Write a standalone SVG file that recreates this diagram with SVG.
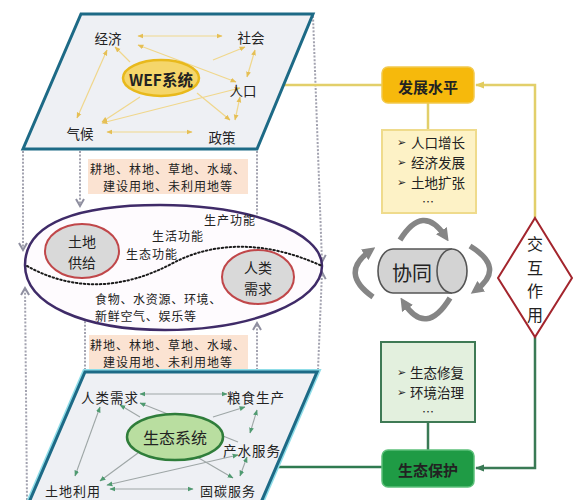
<svg xmlns="http://www.w3.org/2000/svg" width="584" height="500" viewBox="0 0 584 500">
<style>
.t{font-family:"Noto Sans CJK SC","DejaVu Sans",sans-serif;fill:#222;dominant-baseline:central;}
.c{text-anchor:middle;}
.lbl{font-size:13.5px;text-anchor:middle;}
.peach{fill:#fbe3d2;}
.dot{fill:none;stroke:#a3a3b0;stroke-width:2;stroke-dasharray:2 1.6;}
.yl{stroke:#f0d78c;stroke-width:1.2;fill:none;}
.gl{stroke:#9ea6a6;stroke-width:1.1;fill:none;}
.par{stroke:#1d6a86;stroke-width:3;fill:#eef0f4;stroke-linejoin:miter;}
.big{fill:none;stroke:#858585;stroke-width:5.5;}
.bul{font-family:"DejaVu Sans",sans-serif;font-size:11px;fill:#222;dominant-baseline:central;}
</style>
<defs>
<marker id="ya" viewBox="0 0 10 10" refX="9" refY="5" markerWidth="6" markerHeight="6" orient="auto-start-reverse" markerUnits="userSpaceOnUse"><path d="M0,1 L10,5 L0,9 Z" fill="#e5bf55"/></marker>
<marker id="ga" viewBox="0 0 10 10" refX="9" refY="5" markerWidth="6" markerHeight="6" orient="auto-start-reverse" markerUnits="userSpaceOnUse"><path d="M0,1 L10,5 L0,9 Z" fill="#4f9a70"/></marker>
<marker id="chev" viewBox="0 0 10 10" refX="8" refY="5" markerWidth="10" markerHeight="10" orient="auto" markerUnits="userSpaceOnUse"><path d="M1,1 L8,5 L1,9" fill="none" stroke="#8f8fa0" stroke-width="2"/></marker>
<marker id="yarr" viewBox="0 0 10 10" refX="9" refY="5" markerWidth="9" markerHeight="9" orient="auto" markerUnits="userSpaceOnUse"><path d="M0,1 L10,5 L0,9 Z" fill="#e2cc5e"/></marker>
<marker id="garr" viewBox="0 0 10 10" refX="9" refY="5" markerWidth="9" markerHeight="9" orient="auto" markerUnits="userSpaceOnUse"><path d="M0,1 L10,5 L0,9 Z" fill="#3a7a55"/></marker>
<marker id="bigh" viewBox="0 0 10 10" refX="5" refY="5" markerWidth="13" markerHeight="13" orient="auto" markerUnits="userSpaceOnUse"><path d="M0,0 L10,5 L0,10 Z" fill="#858585"/></marker>
</defs>

<!-- dotted connectors and links -->
<g id="connectors">
<path class="dot" d="M23,151 L23,250" marker-end="url(#chev)"/>
<path class="dot" d="M80,151 L80,206" marker-end="url(#chev)"/>
<path class="dot" d="M257,151 L257,313" marker-end="url(#chev)"/>
<path class="dot" d="M313,16 L322,262" marker-end="url(#chev)"/>
<path class="dot" d="M27,500 L25,288" marker-end="url(#chev)"/>
<path class="dot" d="M85,370 L85,320"/>
<path class="dot" d="M257,370 L257,323" marker-end="url(#chev)"/>
<path class="dot" d="M318,370 L322,272" marker-end="url(#chev)"/>
<path d="M283,85 L382,85" stroke="#e2cf6a" stroke-width="2.5" fill="none"/>
<path d="M428,103 L428,130" stroke="#e2cf6a" stroke-width="2.5" fill="none"/>
<path d="M535,218 L535,85 L476,85" stroke="#e2cf6a" stroke-width="2.5" fill="none" marker-end="url(#yarr)"/>
<path d="M277,467 L382,467" stroke="#2f7a50" stroke-width="2.5" fill="none"/>
<path d="M428,422 L428,450" stroke="#3a7a55" stroke-width="2.5" fill="none"/>
<path d="M535,337 L535,468 L476,468" stroke="#3a7a55" stroke-width="2.5" fill="none" marker-end="url(#garr)"/>
<path class="big" d="M400,240 Q423,203 445,236" marker-end="url(#bigh)"/>
<path class="big" d="M470,246 Q506,268 476,290" marker-end="url(#bigh)"/>
<path class="big" d="M450,298 Q426,337 404,303" marker-end="url(#bigh)"/>
<path class="big" d="M373,297 Q339,273 370,251" marker-end="url(#bigh)"/>
</g>

<!-- top WEF plane -->
<g id="wef-plane">
<polygon class="par" points="81,14 313,14 257,149 23,149"/>
<g class="yl">
<line x1="138" y1="36" x2="222" y2="36" marker-start="url(#ya)" marker-end="url(#ya)"/>
<line x1="138" y1="45" x2="236" y2="82" marker-start="url(#ya)" marker-end="url(#ya)"/>
<line x1="115" y1="47" x2="130" y2="62" marker-start="url(#ya)"/>
<line x1="107" y1="50" x2="77" y2="118" marker-start="url(#ya)" marker-end="url(#ya)"/>
<line x1="213" y1="60" x2="245" y2="47" marker-end="url(#ya)"/>
<line x1="255" y1="50" x2="247" y2="77" marker-start="url(#ya)" marker-end="url(#ya)"/>
<line x1="240" y1="97" x2="235" y2="120" marker-start="url(#ya)" marker-end="url(#ya)"/>
<line x1="102" y1="123" x2="240" y2="88" marker-start="url(#ya)" marker-end="url(#ya)"/>
<line x1="107" y1="132" x2="192" y2="132" marker-start="url(#ya)" marker-end="url(#ya)"/>
<line x1="140" y1="97" x2="102" y2="122" marker-end="url(#ya)"/>
<line x1="197" y1="93" x2="230" y2="120" marker-end="url(#ya)"/>
</g>
<ellipse cx="161" cy="78" rx="38" ry="18" fill="#f5d66a" stroke="#e8b91c" stroke-width="2.5"/>
<text class="t c" x="161" y="79" font-size="15.5" font-weight="bold" fill="#3a3320">WEF系统</text>
<text class="t lbl" x="108" y="38">经济</text>
<text class="t lbl" x="251" y="37">社会</text>
<text class="t lbl" x="243" y="90">人口</text>
<text class="t lbl" x="80" y="133">气候</text>
<text class="t lbl" x="222" y="137">政策</text>
</g>

<!-- land type label boxes -->
<g id="land-types-top">
<rect class="peach" x="88" y="159" width="160" height="35"/>
<text class="t c" x="168" y="168" font-size="12" letter-spacing="1">耕地、林地、草地、水域、</text>
<text class="t c" x="168" y="185.5" font-size="12" letter-spacing="1">建设用地、未利用地等</text>
</g>
<g id="land-types-bottom">
<rect class="peach" x="89" y="335" width="159" height="34"/>
<text class="t c" x="168" y="344" font-size="12" letter-spacing="1">耕地、林地、草地、水域、</text>
<text class="t c" x="168" y="361.5" font-size="12" letter-spacing="1">建设用地、未利用地等</text>
</g>

<!-- middle land-human system -->
<g id="land-system">
<path d="M25,265 C25,222 80,205 160,205 C250,205 322,232 322,266 C322,302 250,330 165,330 C85,330 25,305 25,265 Z" fill="#fefbfe" stroke="#3f2b68" stroke-width="2.5"/>
<path d="M27,266 C70,290 120,292 175,262 C215,242 265,240 322,266" fill="none" stroke="#1a1a1a" stroke-width="2" stroke-dasharray="1.5 2.5" stroke-linecap="round"/>
<text class="t c" x="230" y="219" font-size="12" letter-spacing="1">生产功能</text>
<text class="t c" x="178" y="235" font-size="12" letter-spacing="1">生活功能</text>
<text class="t c" x="152" y="253.5" font-size="12" letter-spacing="1">生态功能</text>
<text class="t" x="95" y="298" font-size="12" letter-spacing="0.7">食物、水资源、环境、</text>
<text class="t" x="95" y="315.5" font-size="12" letter-spacing="0.7">新鲜空气、娱乐等</text>
</g>
<g id="land-supply">
<ellipse cx="82" cy="251" rx="37" ry="27" fill="#d9d9d9" stroke="#c0474a" stroke-width="2"/>
<text class="t c" x="82" y="241" font-size="14" fill="#333">土地</text>
<text class="t c" x="82" y="261.5" font-size="14" fill="#333">供给</text>
</g>
<g id="human-demand">
<ellipse cx="258" cy="277" rx="36" ry="27" fill="#d9d9d9" stroke="#c0474a" stroke-width="2"/>
<text class="t c" x="258" y="267" font-size="14" fill="#333">人类</text>
<text class="t c" x="258" y="287.5" font-size="14" fill="#333">需求</text>
</g>

<!-- bottom ecosystem plane -->
<g id="eco-plane">
<polygon points="85,372 317,372 259,507 27,507" fill="none" stroke="#8fdde8" stroke-width="6"/>
<polygon class="par" points="85,372 317,372 259,507 27,507" fill="#eef0f1"/>
<g class="gl">
<line x1="140" y1="394" x2="227" y2="394" marker-start="url(#ga)" marker-end="url(#ga)"/>
<line x1="120" y1="405" x2="140" y2="417" marker-start="url(#ga)"/>
<line x1="140" y1="403" x2="238" y2="442" marker-start="url(#ga)"/>
<line x1="100" y1="407" x2="75" y2="476" marker-start="url(#ga)" marker-end="url(#ga)"/>
<line x1="213" y1="417" x2="245" y2="407" marker-end="url(#ga)"/>
<line x1="257" y1="410" x2="250" y2="433" marker-start="url(#ga)" marker-end="url(#ga)"/>
<line x1="247" y1="457" x2="240" y2="476" marker-start="url(#ga)" marker-end="url(#ga)"/>
<line x1="107" y1="485" x2="238" y2="455" marker-start="url(#ga)" marker-end="url(#ga)"/>
<line x1="110" y1="489" x2="193" y2="489" marker-start="url(#ga)" marker-end="url(#ga)"/>
<line x1="138" y1="453" x2="100" y2="481" marker-end="url(#ga)"/>
<line x1="197" y1="457" x2="233" y2="478" marker-end="url(#ga)"/>
</g>
<ellipse cx="175" cy="437" rx="48" ry="23" fill="#b9dea0" stroke="#2f7d3a" stroke-width="2.5"/>
<text class="t c" x="175" y="437" font-size="16" fill="#333">生态系统</text>
<text class="t lbl" x="110" y="397" letter-spacing="1">人类需求</text>
<text class="t lbl" x="256" y="397" letter-spacing="1">粮食生产</text>
<text class="t lbl" x="252" y="450" letter-spacing="1">产水服务</text>
<text class="t c" x="73" y="490" font-size="13" letter-spacing="1">土地利用</text>
<text class="t c" x="228" y="490" font-size="13" letter-spacing="1">固碳服务</text>
</g>

<!-- development level -->
<g id="dev-level">
<rect x="382" y="67" width="92" height="36" rx="6" fill="#f6b90c" stroke="#f2c94c" stroke-width="1.5"/>
<text class="t c" x="428" y="86" font-size="15" font-weight="bold" fill="#2a1a10">发展水平</text>
</g>
<g id="dev-list">
<rect x="382" y="130" width="94" height="83" fill="#fdf2c6" stroke="#efdb8c" stroke-width="2"/>
<text class="bul" x="397" y="142">➢</text>
<text class="t" x="411" y="142" font-size="13.5">人口增长</text>
<text class="bul" x="397" y="162">➢</text>
<text class="t" x="411" y="162" font-size="13.5">经济发展</text>
<text class="bul" x="397" y="182">➢</text>
<text class="t" x="411" y="182" font-size="13.5">土地扩张</text>
<text class="t c" x="428" y="201.5" font-size="12">…</text>
</g>

<!-- synergy -->
<g id="synergy">
<path d="M452,249 L393,249 A15,22 0 0 0 393,293 L452,293" fill="#d3d3d3" stroke="#555" stroke-width="1.6"/>
<ellipse cx="452" cy="271" rx="15" ry="22" fill="#d3d3d3" stroke="#555" stroke-width="1.6"/>
<text class="t c" x="412" y="272" font-size="20" fill="#333">协同</text>
</g>

<!-- interaction -->
<g id="interaction">
<polygon points="535,218 572,278 535,337 498,278" fill="#fff" stroke="#a3252d" stroke-width="2"/>
<text class="t c" x="535" y="243" font-size="16" fill="#444">交</text>
<text class="t c" x="535" y="266.5" font-size="16" fill="#444">互</text>
<text class="t c" x="535" y="290" font-size="16" fill="#444">作</text>
<text class="t c" x="535" y="313.5" font-size="16" fill="#444">用</text>
</g>

<!-- eco protection -->
<g id="eco-list">
<rect x="381" y="342" width="94" height="80" fill="#e3f0de" stroke="#3f7a55" stroke-width="2"/>
<text class="bul" x="397" y="372">➢</text>
<text class="t" x="410" y="372" font-size="13.5">生态修复</text>
<text class="bul" x="397" y="392">➢</text>
<text class="t" x="410" y="392" font-size="13.5">环境治理</text>
<text class="t c" x="428" y="411.5" font-size="12">…</text>
</g>
<g id="eco-protect">
<rect x="382" y="450" width="92" height="37" rx="6" fill="#1f9b45" stroke="#5cc07a" stroke-width="1.5"/>
<text class="t c" x="428" y="469" font-size="15" font-weight="bold" fill="#16301c">生态保护</text>
</g>
</svg>
